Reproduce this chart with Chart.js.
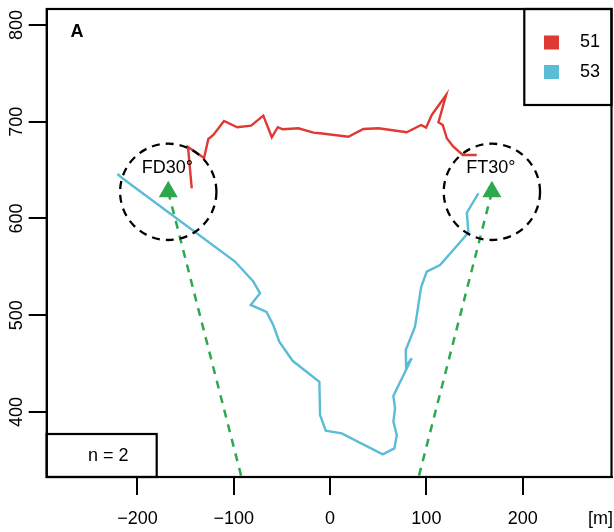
<!DOCTYPE html>
<html><head><meta charset="utf-8">
<script src="https://cdn.jsdelivr.net/npm/chart.js@4.4.0/dist/chart.umd.min.js"></script>
<style>html,body{margin:0;padding:0;background:#fff;} #wrap{width:614px;height:532px;}</style>
</head><body><div id="wrap"><canvas id="c" width="614" height="532"></canvas></div>
<script>
// ---- data ----
const seriesNames = ['51', '53'];
const seriesColors = ['#DE3A33', '#5BBCD5'];
const s51X = [-143.6,-147.5,-130.8,-126.4,-121.2,-110.1,-96.3,-82.0,-69.3,-60.5,-54.3,-49.1,-32.9,-17.3,-10.4,19.0,34.6,50.2,79.6,94.5,99.7,105.6,120.5,112.5,117.0,121.2,128.0,137.8,152.3];
const s51Y = [631.2,673.9,662.5,682.2,686.3,700.8,694.3,695.9,706.3,683.9,694.3,692.2,693.2,688.7,688.1,684.5,692.5,693.2,689.1,696.6,693.9,707.0,727.6,699.4,696.6,682.9,674.2,665.6,665.6];
const s53X = [-220.8,-215.6,-98.7,-79.7,-72.7,-82.4,-66.0,-59.0,-52.7,-38.9,-11.1,-10.4,-4.5,12.1,54.7,66.8,69.3,65.7,67.5,65.7,84.8,78.9,78.6,88.2,91.7,94.5,100.4,114.2,143.6,142.0,154.0];
const s53Y = [646.0,641.6,555.5,534.8,522.7,510.6,503.4,489.9,472.6,452.9,431.2,396.9,380.6,377.9,356.2,362.4,376.2,390.0,403.8,416.5,455.5,447.6,464.1,488.2,510.6,528.8,545.0,551.9,585.3,606.0,626.0];
const siteNames = ['FD30°', 'FT30°'];
const siteX = [-168, 168];
const siteY = [627.5, 627.5];
const siteRadius = [50, 50];
const viewEndX = [-92, 92];
const viewEndY = [332.8, 332.8];
const xTicks = [-200, -100, 0, 100, 200];
const yTicks = [400, 500, 600, 700, 800];
const xRange = [-294.2, 292.2];
const yRange = [332.8, 816.5];
const panelLabel = 'A';
const sampleNote = 'n = 2';
const unitLabel = '[m]';

// ---- styling ----
const FONT = "'Liberation Sans', Arial, Helvetica, sans-serif";
const GREEN = '#2EA84E';

const zip = (xs, ys) => xs.map((x, i) => ({x, y: ys[i]}));

const datasets = [
  {label: seriesNames[0], data: zip(s51X, s51Y), showLine: true, borderColor: seriesColors[0], backgroundColor: seriesColors[0], borderWidth: 2.4, pointRadius: 0, tension: 0, isSeries: true},
  {label: seriesNames[1], data: zip(s53X, s53Y), showLine: true, borderColor: seriesColors[1], backgroundColor: seriesColors[1], borderWidth: 2.4, pointRadius: 0, tension: 0, isSeries: true},
];
siteNames.forEach((n, i) => {
  datasets.push({label: n + ' view', data: [{x: siteX[i], y: siteY[i]}, {x: viewEndX[i], y: viewEndY[i]}],
    showLine: true, borderColor: GREEN, borderWidth: 2.5, borderDash: [8, 7], pointRadius: 0, tension: 0});
});
datasets.push({label: 'sites', data: zip(siteX, siteY), showLine: false, pointStyle: 'triangle',
  pointRadius: 11, pointHoverRadius: 11, backgroundColor: GREEN, borderColor: GREEN, borderWidth: 0});

const noPad = s => { s.paddingLeft = 0; s.paddingRight = 0; s.paddingTop = 0; s.paddingBottom = 0; };

const overlay = {
  id: 'overlay',
  afterDatasetsDraw(chart) {
    const {ctx, chartArea: a, scales: {x, y}} = chart;
    ctx.save();
    // dashed circles and site labels
    siteNames.forEach((n, i) => {
      const cx = x.getPixelForValue(siteX[i]);
      const cy = y.getPixelForValue(siteY[i]);
      const r = Math.abs(x.getPixelForValue(siteX[i] + siteRadius[i]) - cx);
      ctx.beginPath();
      ctx.setLineDash([8, 6]);
      ctx.lineWidth = 2.3;
      ctx.strokeStyle = '#000';
      ctx.arc(cx, cy, r, 0, Math.PI * 2);
      ctx.stroke();
      ctx.setLineDash([]);
      ctx.fillStyle = '#000';
      ctx.font = '18px ' + FONT;
      ctx.textAlign = 'center';
      ctx.textBaseline = 'middle';
      ctx.fillText(n, cx - 1, cy - 24);
    });
    ctx.setLineDash([]);
    // legend box
    ctx.fillStyle = '#fff';
    ctx.fillRect(524.3, a.top, a.right - 524.3, 96);
    ctx.lineWidth = 2.2;
    ctx.strokeStyle = '#000';
    ctx.strokeRect(524.3, a.top, a.right - 524.3, 96);
    chart.data.datasets.filter(d => d.isSeries).forEach((d, i) => {
      const yy = 42.5 + i * 29.5;
      ctx.fillStyle = d.borderColor;
      ctx.fillRect(544, yy - 7, 15, 14);
      ctx.fillStyle = '#000';
      ctx.font = '18px ' + FONT;
      ctx.textAlign = 'left';
      ctx.textBaseline = 'middle';
      ctx.fillText(d.label, 580, yy);
    });
    // n box
    ctx.fillStyle = '#fff';
    ctx.fillRect(a.left, 434, 156.7 - a.left, a.bottom - 434);
    ctx.strokeRect(a.left, 434, 156.7 - a.left, a.bottom - 434);
    ctx.fillStyle = '#000';
    ctx.textAlign = 'center';
    ctx.fillText(sampleNote, 108.3, 456.5);
    // plot frame
    ctx.lineWidth = 2.2;
    ctx.strokeRect(a.left, a.top, a.right - a.left, a.bottom - a.top);
    // panel label
    ctx.font = 'bold 18px ' + FONT;
    ctx.fillText(panelLabel, 77, 32);
    // rotated y tick labels
    ctx.font = '18px ' + FONT;
    yTicks.forEach(v => {
      const py = y.getPixelForValue(v);
      ctx.save();
      ctx.translate(22, py);
      ctx.rotate(-Math.PI / 2);
      ctx.textAlign = 'center';
      ctx.textBaseline = 'alphabetic';
      ctx.fillText(String(v), 0, 0);
      ctx.restore();
    });
    // unit label
    ctx.textAlign = 'right';
    ctx.textBaseline = 'middle';
    ctx.fillText(unitLabel, 613, 519.3);
    ctx.restore();
  }
};

new Chart(document.getElementById('c'), {
  type: 'scatter',
  data: {datasets},
  options: {
    responsive: false,
    animation: false,
    events: [],
    layout: {autoPadding: false, padding: {top: 9, right: 2.5, left: 0, bottom: 0}},
    plugins: {legend: {display: false}, tooltip: {enabled: false}},
    scales: {
      x: {
        type: 'linear', min: xRange[0], max: xRange[1],
        afterBuildTicks: s => { s.ticks = xTicks.map(v => ({value: v})); },
        afterFit: s => { s.height = 55; noPad(s); },
        grid: {drawOnChartArea: false, drawTicks: true, tickLength: 18, color: '#000', lineWidth: 2},
        border: {display: true, color: '#000', width: 2},
        ticks: {color: '#000', font: {size: 18, family: FONT}, padding: 13.5, maxRotation: 0, minRotation: 0,
          callback: v => (v < 0 ? '\u2212' + Math.abs(v) : String(v))}
      },
      y: {
        type: 'linear', min: yRange[0], max: yRange[1],
        afterBuildTicks: s => { s.ticks = yTicks.map(v => ({value: v})); },
        afterFit: s => { s.width = 46.7; noPad(s); },
        grid: {drawOnChartArea: false, drawTicks: true, tickLength: 18, color: '#000', lineWidth: 2},
        border: {display: true, color: '#000', width: 2},
        ticks: {display: false}
      }
    }
  },
  plugins: [overlay]
});
</script>
</body></html>
